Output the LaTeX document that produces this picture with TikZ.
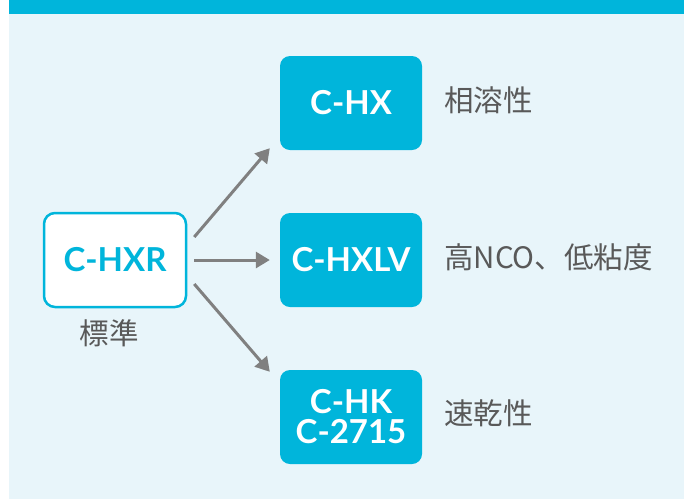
\documentclass[tikz,border=0pt]{standalone}
\usepackage{fontspec}
\setmainfont{Lato}
\newfontfamily\jpfont{Noto Sans CJK JP}
\usetikzlibrary{arrows.meta}
\definecolor{cyanm}{HTML}{00B5DB}
\definecolor{panel}{HTML}{E8F5FA}
\definecolor{arrg}{HTML}{808080}
\definecolor{txtg}{HTML}{595959}
\tikzset{
  prodbox/.style={rectangle, rounded corners=10pt, fill=cyanm, text=white,
    minimum width=142pt, minimum height=94pt, inner sep=0pt, align=center,
    font=\fontsize{33}{30}\selectfont\bfseries},
  basebox/.style={rectangle, rounded corners=11pt, fill=white, draw=cyanm, line width=2.5pt,
    text=cyanm, minimum width=142pt, minimum height=94pt, inner sep=0pt,
    font=\fontsize{33}{30}\selectfont\bfseries},
  jptext/.style={text=txtg, inner sep=0pt, font=\jpfont\fontsize{29.5}{32}\selectfont},
  desc/.style={jptext, anchor=west},
  arr/.style={draw=arrg, line width=3pt, -{Triangle[length=14pt,width=16pt]}}
}
\begin{document}
\begin{tikzpicture}[x=1pt,y=-1pt]
\useasboundingbox (0,0) rectangle (684,499);
\fill[panel] (9,0) rectangle (684,499);
\fill[cyanm] (9,0) rectangle (684,14);
\node[basebox] (hxr) at (115,260) {C-HXR};
\node[jptext] (std) at (109,333) {標準};
\node[prodbox] (hx) at (351,103) {C-HX};
\node[prodbox] (hxlv) at (351,260) {C-HXLV};
\node[prodbox] (hk) at (351,417) {C-HK\\C-2715};
\node[desc] (d1) at (444,100) {相溶性};
\node[desc] (d2) at (444,257) {高NCO、低粘度};
\node[desc] (d3) at (444,413) {速乾性};
\draw[arr] ([xshift=7pt,yshift=23pt]hxr.east) -- ([xshift=-10pt,yshift=2pt]hx.south west);
\draw[arr] ([xshift=7pt]hxr.east) -- ([xshift=-10pt]hxlv.west);
\draw[arr] ([xshift=7pt,yshift=-24pt]hxr.east) -- ([xshift=-10pt,yshift=-2pt]hk.north west);
\end{tikzpicture}
\end{document}
